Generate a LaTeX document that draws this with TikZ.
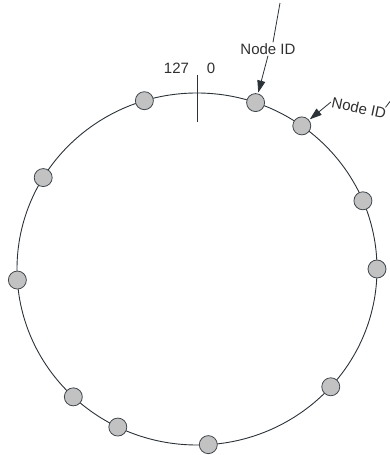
\documentclass[tikz,border=0pt]{standalone}
\usepackage{fontspec}
\setmainfont{Liberation Sans}
\usepackage{xcolor}
\usepackage{tikz}
\usetikzlibrary{arrows.meta,positioning,calc}
\definecolor{rink}{HTML}{2B3238}
\definecolor{rnode}{HTML}{C2C2C2}
\definecolor{rtext}{HTML}{303030}

\begin{document}
\begin{tikzpicture}[x=1pt,y=1pt,
  font=\fontsize{15}{17}\selectfont,
  ring/.style={draw=rink,line width=0.9pt},
  peer/.style={circle,draw=rink!90,fill=rnode,line width=0.8pt,minimum size=18pt,inner sep=0pt},
  lbl/.style={text=rtext,inner sep=1pt},
  arr/.style={-{Triangle[length=12pt,width=8pt]},rink,line width=0.8pt}]
\useasboundingbox (0,0) rectangle (389,455);
\coordinate (c) at (197,186);
\draw[ring] (c) ellipse [x radius=180,y radius=176];
\foreach \a [count=\i] in {0,22.8,54.4,71,107,148.7,183.6,226.6,243.9,273.6,318}
  \node[peer] (n\i) at ($(c)+(\a:180 and 176)$) {};
% start of the ring
\coordinate (t1) at (197,380);
\coordinate (t2) at (197,333);
\draw[rink,line width=0.9pt] (t1) -- (t2);
\node[lbl] (hi) at (176.5,386.5) {127};
\node[lbl] (lo) at (211,386.5) {0};
% labels
\node[lbl] (id1) at (268,406) {Node ID};
\coordinate (f1) at (280,452);
\draw[rink,line width=0.8pt] (f1) -- ([xshift=5pt]id1.north);
\draw[arr,shorten >=1pt] (id1.south) -- (n4);
\node[lbl,rotate=-12] (id2) at (359,347) {Node ID};
\coordinate (f2) at (395,360);
\draw[rink,line width=0.8pt] (f2) -- ([xshift=-3pt]id2.north east);
\draw[arr,shorten >=1pt] (id2.west) -- (n3);
\end{tikzpicture}
\end{document}
